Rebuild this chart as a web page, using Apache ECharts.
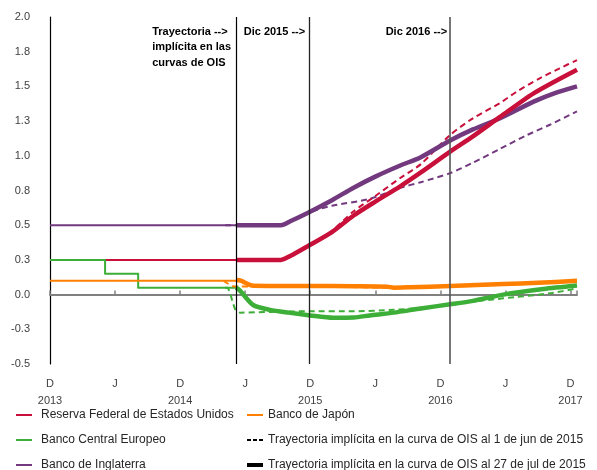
<!DOCTYPE html>
<html>
<head>
<meta charset="utf-8">
<script src="https://cdn.jsdelivr.net/npm/echarts@6/dist/echarts.min.js"></script>
<style>
  html, body { margin: 0; padding: 0; background: #fff; }
  #chart { width: 597px; height: 470px; }
</style>
</head>
<body>
<div id="chart"></div>
<script>
// Horizontal position: months counted from December 2013.
const xTickLetters = ['D', 'J', 'D', 'J', 'D', 'J', 'D', 'J', 'D'];
const xTickYears = ['2013', '', '2014', '', '2015', '', '2016', '', '2017'];

// Policy rates, history (%)
const fedHistory = [[0, 0.25], [17.17, 0.25]];
const ecbHistory = [[0, 0.25], [5.08, 0.25], [5.08, 0.15], [8.13, 0.15], [8.13, 0.05], [17.17, 0.05]];
const bojHistory = [[0, 0.10], [17.17, 0.10]];
const boeHistory = [[0, 0.50], [17.17, 0.50]];

// Path implied by OIS curves, 27 Jul 2015
const fedJul = [[17.17, 0.25], [21.3, 0.25], [22.2, 0.28], [23.8, 0.35], [26, 0.45], [28, 0.57], [30, 0.67],
  [32.3, 0.78], [34.2, 0.88], [36.9, 1.03], [39, 1.14], [41.5, 1.28], [44.6, 1.45], [48.6, 1.62]];
const ecbJul = [[17.17, 0.05], [17.5, 0.03], [18.74, -0.075], [20.3, -0.11], [22, -0.13], [24, -0.15],
  [26.1, -0.167], [28, -0.165], [29.5, -0.15], [31.7, -0.13], [34.2, -0.10], [36.9, -0.07], [39, -0.045],
  [41.8, 0.0], [45.5, 0.04], [48.6, 0.065]];
const bojJul = [[17.17, 0.105], [17.6, 0.10], [18.74, 0.064], [24, 0.062], [28, 0.06], [31.1, 0.057],
  [31.7, 0.05], [33.2, 0.053], [36.9, 0.062], [41.8, 0.076], [45, 0.085], [48.6, 0.10]];
const boeJul = [[17.17, 0.50], [21.3, 0.50], [22.2, 0.53], [23.8, 0.59], [26, 0.68], [28, 0.77], [30, 0.85],
  [32.3, 0.93], [34.2, 0.99], [36.9, 1.11], [39, 1.19], [41.5, 1.27], [44.6, 1.39], [46.5, 1.45], [48.6, 1.50]];

// Path implied by OIS curves, 1 Jun 2015
const fedJun = [[16.16, 0.25], [21.3, 0.25], [22.2, 0.28], [23.8, 0.35], [26, 0.46], [28, 0.60], [30, 0.71],
  [32.3, 0.84], [34.2, 0.94], [36.9, 1.15], [39, 1.27], [41.5, 1.38], [43, 1.46], [45.2, 1.56], [47, 1.63], [48.6, 1.69]];
const ecbJun = [[16.16, 0.05], [16.34, 0.05], [17.1, -0.11], [17.54, -0.13], [20.3, -0.125], [24, -0.12],
  [28, -0.12], [31.7, -0.11], [34.2, -0.095], [36.9, -0.068], [41.8, -0.027], [46.2, 0.01], [48.6, 0.045]];
const bojJun = [[16.0, 0.10], [16.9, 0.06], [17.5, 0.058], [24, 0.058], [31.7, 0.05], [36.9, 0.058],
  [41.8, 0.07], [48.6, 0.095]];
const boeJun = [[16.16, 0.50], [21.3, 0.50], [22.2, 0.53], [23.8, 0.59], [26, 0.64], [29.5, 0.69], [32.3, 0.77],
  [34.2, 0.81], [36.9, 0.875], [39, 0.95], [41.5, 1.05], [44, 1.15], [46, 1.22], [48.6, 1.32]];

// Vertical reference lines: start of implied path, Dec 2015, Dec 2016
const markerMonths = [17.17, 23.9, 36.9];

const NAMES = {
  fed: 'Reserva Federal de Estados Unidos',
  boj: 'Banco de Japón',
  ecb: 'Banco Central Europeo',
  boe: 'Banco de Inglaterra',
  jun: 'Trayectoria implícita en la curva de OIS al 1 de jun de 2015',
  jul: 'Trayectoria implícita en la curva de OIS al 27 de jul de 2015'
};
const COLORS = { fed: '#C8103A', boj: '#FF8000', ecb: '#3DAE37', boe: '#72397F' };

const FONT = '"Liberation Sans", Arial, sans-serif';

function line(name, data, color, width, dashed, z, smooth) {
  return {
    type: 'line', name, data, color,
    showSymbol: false, symbol: 'none', silent: true, animation: false,
    xAxisIndex: 0, yAxisIndex: 0, z: z,
    smooth: smooth ? 0.25 : false,
    lineStyle: { color, width, type: dashed ? [6, 4] : 'solid', cap: 'butt', join: 'round' }
  };
}

const series = [
  line(NAMES.fed, fedHistory, COLORS.fed, 2, false, 2, false),
  line(NAMES.ecb, ecbHistory, COLORS.ecb, 2, false, 2, false),
  line(NAMES.boe, boeHistory, COLORS.boe, 2, false, 2, false),
  line(NAMES.boj, bojHistory, COLORS.boj, 2, false, 2, false),
  line(NAMES.jun, boeJun, COLORS.boe, 2, true, 3, true),
  line(NAMES.jun, fedJun, COLORS.fed, 2, true, 3, true),
  line(NAMES.jun, ecbJun, COLORS.ecb, 2, true, 3, true),
  line(NAMES.jun, bojJun, COLORS.boj, 2, true, 3, true),
  line(NAMES.boe, boeJul, COLORS.boe, 4.5, false, 4, true),
  line(NAMES.fed, fedJul, COLORS.fed, 4.5, false, 4, true),
  line(NAMES.ecb, ecbJul, COLORS.ecb, 4.5, false, 4, true),
  line(NAMES.boj, bojJul, COLORS.boj, 4.5, false, 4, true),
  line(NAMES.jul, [], '#000', 4.5, false, 1, false)
];

// vertical lines
series[3].markLine = {
  silent: true, symbol: 'none', animation: false, label: { show: false },
  data: markerMonths.map((m, i) => ({
    xAxis: m,
    lineStyle: { color: ['#000', '#222', '#555'][i], width: [1.2, 1.3, 1.6][i], type: 'solid' }
  }))
};

const thinIcon = 'path://M0,1h16v2h-16z';
const dashIcon = 'path://M0,1h4v2h-4z M6,1h4v2h-4z M12,1h4v2h-4z';

const legendBase = {
  orient: 'vertical', top: 409, height: 80, padding: 0, itemWidth: 16, itemHeight: 4, itemGap: 13,
  selectedMode: false, itemStyle: { borderWidth: 0 },
  textStyle: { fontFamily: FONT, fontSize: 12, color: '#262626', lineHeight: 12 }
};

function yLabel(v) {
  const r = Math.sign(v) * Math.round(Math.abs(v) * 10 + 1e-9) / 10;
  return r.toFixed(1);
}

function xLabel(v) {
  if (Math.abs(v / 6 - Math.round(v / 6)) > 1e-6) return '';
  const i = Math.round(v / 6);
  if (i < 0 || i >= xTickLetters.length) return '';
  return xTickYears[i] ? xTickLetters[i] + '\n' + xTickYears[i] : xTickLetters[i];
}

const chart = echarts.init(document.getElementById('chart'), null, { renderer: 'canvas' });
chart.setOption({
  animation: false,
  backgroundColor: '#fff',
  grid: { left: 50, right: 20, top: 17, bottom: 106, containLabel: false },
  xAxis: [
    {
      type: 'value', min: 0, max: 48.6, interval: 6, position: 'bottom',
      axisLine: { show: false, onZero: false }, axisTick: { show: false }, splitLine: { show: false },
      axisLabel: {
        formatter: xLabel, margin: 11, fontFamily: FONT, fontSize: 11, color: '#404040', lineHeight: 17,
        showMaxLabel: false
      }
    },
    {
      type: 'value', min: 0, max: 48.6, interval: 6, position: 'top',
      axisLine: { show: true, onZero: true, onZeroAxisIndex: 0, lineStyle: { color: '#808080', width: 2 } },
      axisTick: { show: true, length: 4, lineStyle: { color: '#808080', width: 1.5 } },
      axisLabel: { show: false }, splitLine: { show: false }
    }
  ],
  yAxis: {
    type: 'value', min: -0.5, max: 2.0, interval: 0.25,
    axisLine: { show: true, onZero: false, lineStyle: { color: '#000', width: 1.2 } },
    axisTick: { show: false }, splitLine: { show: false },
    axisLabel: { formatter: yLabel, margin: 20, fontFamily: FONT, fontSize: 11, color: '#404040' }
  },
  legend: [
    Object.assign({}, legendBase, {
      left: 16,
      textStyle: Object.assign({}, legendBase.textStyle, { padding: [0, 0, 0, 4] }),
      data: [
        { name: NAMES.fed, icon: thinIcon },
        { name: NAMES.ecb, icon: thinIcon },
        { name: NAMES.boe, icon: thinIcon }
      ]
    }),
    Object.assign({}, legendBase, {
      left: 247,
      data: [
        { name: NAMES.boj, icon: thinIcon },
        { name: NAMES.jun, icon: dashIcon, itemStyle: { color: '#000', borderWidth: 0 } },
        { name: NAMES.jul, icon: 'rect', itemStyle: { color: '#000', borderWidth: 0 } }
      ]
    })
  ],
  series
});

// Annotations next to the vertical lines
const px = m => chart.convertToPixel({ xAxisIndex: 0 }, m);
const noteFont = 'bold 11px ' + FONT;
chart.setOption({
  graphic: [
    {
      type: 'text', silent: true, x: px(markerMonths[0]) - 84, y: 24,
      style: { text: 'Trayectoria -->\nimplícita en las\ncurvas de OIS', font: noteFont, fill: '#000',
        textAlign: 'left', textVerticalAlign: 'top', lineHeight: 15.5 }
    },
    {
      type: 'text', silent: true, x: px(markerMonths[1]) - 4, y: 24,
      style: { text: 'Dic 2015 -->', font: noteFont, fill: '#000', textAlign: 'right', textVerticalAlign: 'top', lineHeight: 15.5 }
    },
    {
      type: 'text', silent: true, x: px(markerMonths[2]) - 3, y: 24,
      style: { text: 'Dic 2016 -->', font: noteFont, fill: '#000', textAlign: 'right', textVerticalAlign: 'top', lineHeight: 15.5 }
    }
  ]
});
</script>
</body>
</html>
